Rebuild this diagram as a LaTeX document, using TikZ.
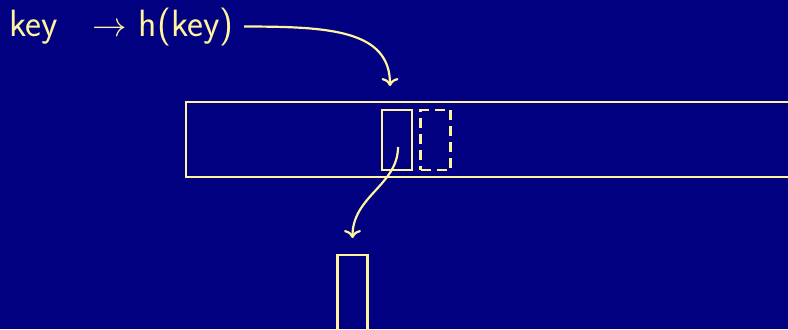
\documentclass[tikz,border=0pt]{standalone}
\usetikzlibrary{arrows.meta}
\definecolor{slidebg}{RGB}{0,0,128}
\definecolor{chalk}{RGB}{255,243,158}
\tikzset{
  word/.style={text=chalk, font=\sffamily\fontsize{19}{23}\selectfont, inner sep=5pt, anchor=base west},
  cell/.style={draw=chalk, line width=1.1pt, inner sep=0pt, minimum width=15pt, minimum height=30pt},
  hop/.style={draw=chalk, line width=1.1pt, -{To[length=4pt,width=8.5pt]}}
}
\begin{document}
\begin{tikzpicture}[x=0.5pt,y=-0.5pt]
  \fill[slidebg] (0,0) rectangle (788,329);
  \useasboundingbox (0,0) rectangle (788,329);
  \clip (0,0) rectangle (788,329);
  \node[word] (key) at (-1,36) {key};
  \node[word] (hkey) at (82,36) {$\rightarrow$ h(key)};
  % the table
  \draw[chalk, line width=1.1pt] (186,102) rectangle (810,177);
  \node[cell] (slot) at (397,140) {};
  \node[cell, dash pattern=on 5pt off 3pt] (spare) at (435.5,140) {};
  \node[cell, minimum height=45pt, anchor=north] (bucket) at (352.5,254) {};
  \coordinate (drop) at (390,86);
  \coordinate (slotmid) at (398,147);
  \draw[hop] (hkey.east) .. controls +(85,0) and +(0,-56) .. (drop);
  \draw[hop] (slotmid) .. controls +(0,38) and +(0,-42) .. ([yshift=8pt]bucket.north);
\end{tikzpicture}
\end{document}
